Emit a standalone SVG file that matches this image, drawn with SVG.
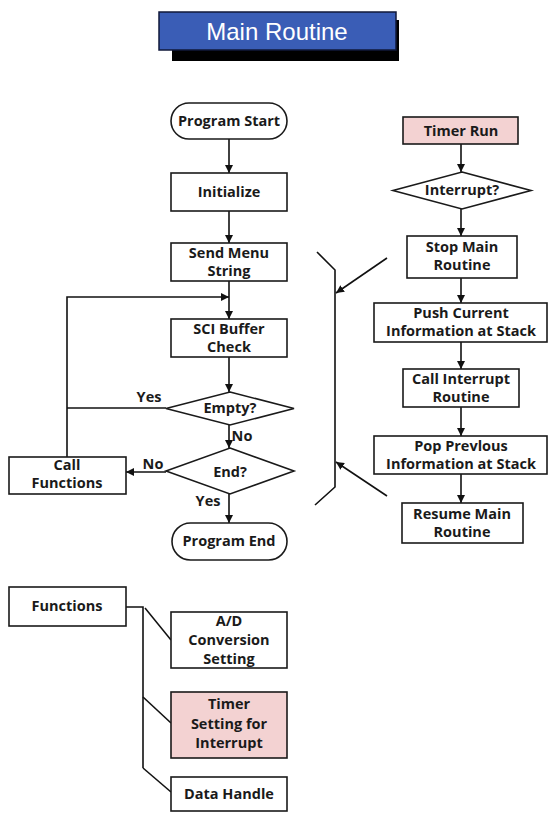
<svg xmlns="http://www.w3.org/2000/svg" width="549" height="813" viewBox="0 0 549 813">
<defs>
<marker id="ah" viewBox="0 0 10 10" refX="10" refY="5" markerWidth="8" markerHeight="8" markerUnits="userSpaceOnUse" orient="auto">
<path d="M0,0 L10,5 L0,10 z" fill="#111"/>
</marker>
<style>
.b{fill:#fff;stroke:#1a1a1a;stroke-width:1.6}
.p{fill:#f3d2d2;stroke:#1a1a1a;stroke-width:1.6}
.t{font-family:"Open Sans","Noto Sans","DejaVu Sans",sans-serif;font-weight:700;font-size:14.5px;fill:#1a1a1a;text-anchor:middle}
.c{fill:none;stroke:#111;stroke-width:1.6}
.a{fill:none;stroke:#111;stroke-width:1.6;marker-end:url(#ah)}
</style>
</defs>
<rect width="549" height="813" fill="#fff"/>

<g id="title">
<rect x="172" y="20" width="227" height="41" fill="#000"/>
<rect x="159" y="12" width="237" height="38" fill="#3a5db6" stroke="#10183a" stroke-width="1.5"/>
<text x="277" y="40" font-family="'Liberation Sans',Arial,sans-serif" font-size="24" fill="#fff" text-anchor="middle">Main Routine</text>
</g>

<g id="connectors">
<line class="a" x1="229" y1="139" x2="229" y2="173"/>
<line class="a" x1="229" y1="211" x2="229" y2="243"/>
<line class="a" x1="229" y1="281" x2="229" y2="319"/>
<polyline class="a" points="67,457 67,297 229,297"/>
<line class="c" x1="166" y1="408" x2="67" y2="408"/>
<line class="a" x1="229" y1="357" x2="229" y2="392"/>
<line class="a" x1="229" y1="425" x2="229" y2="448"/>
<line class="a" x1="229" y1="494" x2="229" y2="523"/>
<line class="a" x1="166" y1="472" x2="126" y2="472"/>

<line class="a" x1="461" y1="144" x2="461" y2="172"/>
<line class="a" x1="461" y1="209" x2="461" y2="236"/>
<line class="a" x1="461" y1="278" x2="461" y2="303"/>
<line class="a" x1="461" y1="342" x2="461" y2="369"/>
<line class="a" x1="461" y1="407" x2="461" y2="436"/>
<line class="a" x1="461" y1="474" x2="461" y2="503"/>

<polyline class="c" points="317,252 335,270 335,487 315,505"/>
<line class="a" x1="387" y1="258" x2="336" y2="293"/>
<line class="a" x1="387" y1="496" x2="336" y2="462"/>

<polyline class="c" points="126,607 143,607 143,768"/>
<line class="c" x1="145" y1="608" x2="171" y2="640"/>
<line class="c" x1="143" y1="697" x2="171" y2="723"/>
<line class="c" x1="143" y1="768" x2="171" y2="792"/>
</g>

<g id="program-start">
<rect class="b" x="171" y="103" width="116" height="36" rx="18"/>
<text class="t" x="229" y="126">Program Start</text>
</g>
<g id="initialize">
<rect class="b" x="171" y="173" width="116" height="38"/>
<text class="t" x="229" y="197">Initialize</text>
</g>
<g id="send-menu">
<rect class="b" x="171" y="243" width="116" height="38"/>
<text class="t" x="229" y="258">Send Menu</text>
<text class="t" x="229" y="276">String</text>
</g>
<g id="sci-buffer">
<rect class="b" x="171" y="319" width="116" height="38"/>
<text class="t" x="229" y="334">SCI Buffer</text>
<text class="t" x="229" y="352">Check</text>
</g>
<g id="empty">
<polygon class="b" points="230,392 294,408.5 230,425 166,408.5"/>
<text class="t" x="230" y="413">Empty?</text>
<text class="t" x="149" y="402">Yes</text>
<text class="t" x="242" y="441">No</text>
</g>
<g id="end">
<polygon class="b" points="230,448 294,471 230,494 166,471"/>
<text class="t" x="230" y="477">End?</text>
<text class="t" x="153" y="469">No</text>
<text class="t" x="208" y="506">Yes</text>
</g>
<g id="call-functions">
<rect class="b" x="9" y="457" width="117" height="37"/>
<text class="t" x="67" y="470">Call</text>
<text class="t" x="67" y="488">Functions</text>
</g>
<g id="program-end">
<rect class="b" x="172" y="523" width="115" height="37" rx="18.5"/>
<text class="t" x="229" y="546">Program End</text>
</g>

<g id="timer-run">
<rect class="p" x="403" y="117" width="115" height="27"/>
<text class="t" x="461" y="136">Timer Run</text>
</g>
<g id="interrupt">
<polygon class="b" points="462,172 531,190.5 462,209 393,190.5"/>
<text class="t" x="462" y="195">Interrupt?</text>
</g>
<g id="stop-main">
<rect class="b" x="407" y="236" width="110" height="42"/>
<text class="t" x="462" y="252">Stop Main</text>
<text class="t" x="462" y="270">Routine</text>
</g>
<g id="push-current">
<rect class="b" x="374" y="303" width="173" height="39"/>
<text class="t" x="461" y="318">Push Current</text>
<text class="t" x="461" y="336">Information at Stack</text>
</g>
<g id="call-interrupt">
<rect class="b" x="403" y="369" width="116" height="38"/>
<text class="t" x="461" y="384">Call Interrupt</text>
<text class="t" x="461" y="402">Routine</text>
</g>
<g id="pop-previous">
<rect class="b" x="374" y="436" width="173" height="38"/>
<text class="t" x="461" y="451">Pop Prevlous</text>
<text class="t" x="461" y="469">Information at Stack</text>
</g>
<g id="resume-main">
<rect class="b" x="402" y="503" width="121" height="40"/>
<text class="t" x="462" y="519">Resume Main</text>
<text class="t" x="462" y="537">Routine</text>
</g>

<g id="functions">
<rect class="b" x="9" y="587" width="117" height="39"/>
<text class="t" x="67" y="611">Functions</text>
</g>
<g id="ad-conversion">
<rect class="b" x="171" y="612" width="116" height="56"/>
<text class="t" x="229" y="626">A/D</text>
<text class="t" x="229" y="645">Conversion</text>
<text class="t" x="229" y="664">Setting</text>
</g>
<g id="timer-setting">
<rect class="p" x="171" y="692" width="116" height="66"/>
<text class="t" x="229" y="709">Timer</text>
<text class="t" x="229" y="729">Setting for</text>
<text class="t" x="229" y="748">Interrupt</text>
</g>
<g id="data-handle">
<rect class="b" x="171" y="777" width="116" height="34"/>
<text class="t" x="229" y="799">Data Handle</text>
</g>
</svg>
